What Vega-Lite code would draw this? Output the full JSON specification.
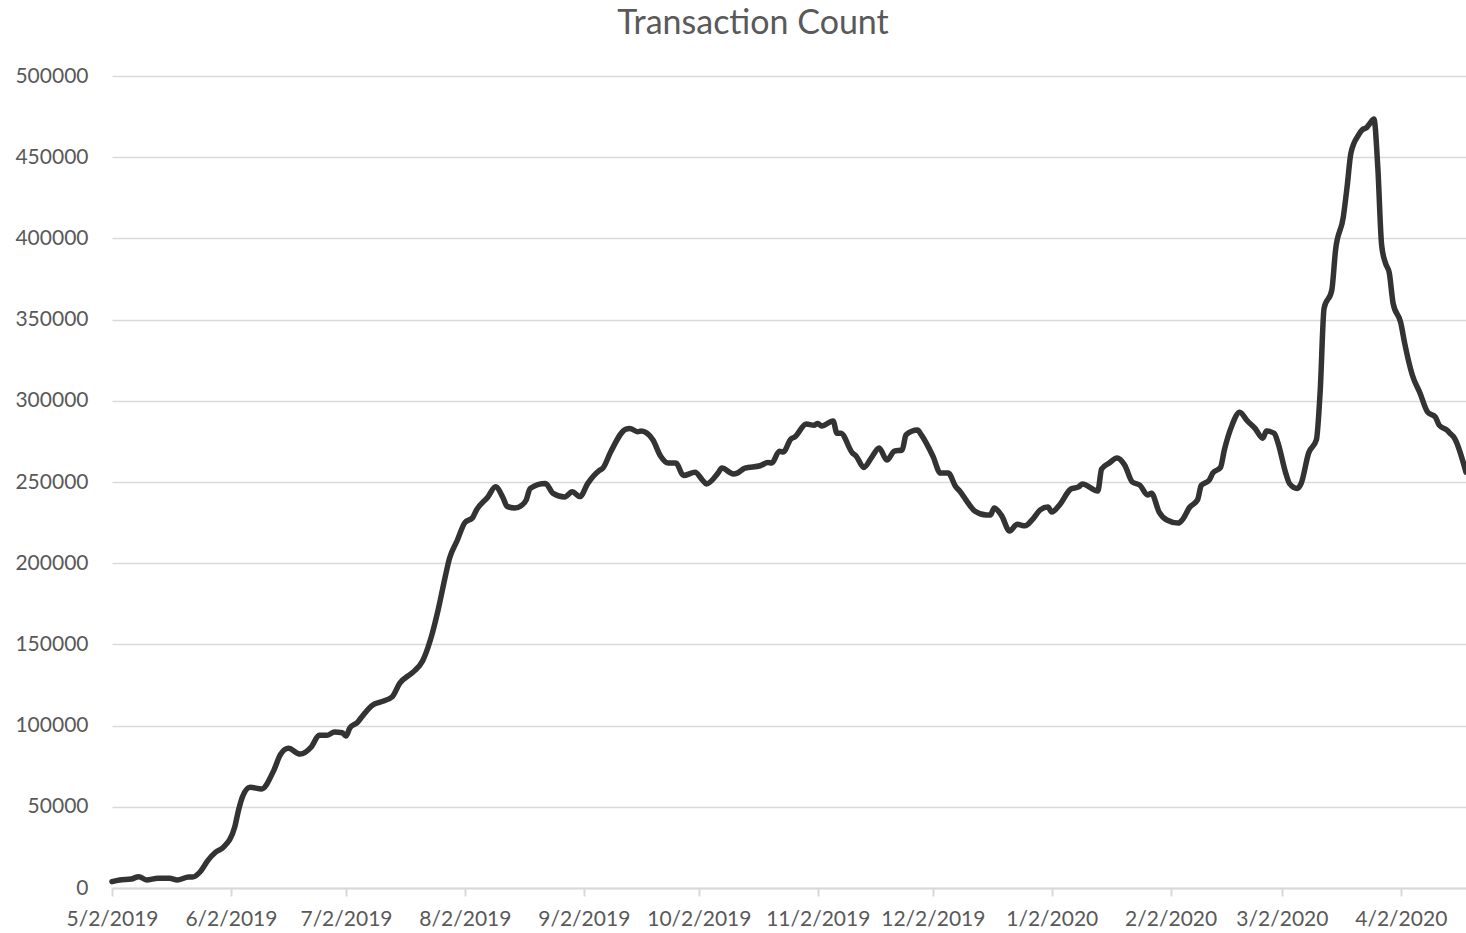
{
  "$schema": "https://vega.github.io/schema/vega-lite/v6.json",
  "autosize": {"type": "none"},
  "padding": {"left": 112, "top": 76, "right": 0, "bottom": 45},
  "width": 1354,
  "height": 812,
  "background": "white",
  "title": {
    "text": "Transaction Count",
    "font": "Lato",
    "fontSize": 34,
    "fontWeight": "normal",
    "color": "#595959",
    "anchor": "middle",
    "frame": "group",
    "dx": -36,
    "offset": 24
  },
  "config": {"view": {"stroke": null}},
  "data": {
    "values": [
      {"date": "2019-05-02", "count": 3900},
      {"date": "2019-05-04", "count": 4900},
      {"date": "2019-05-07", "count": 5500},
      {"date": "2019-05-09", "count": 7000},
      {"date": "2019-05-11", "count": 5000},
      {"date": "2019-05-14", "count": 6000},
      {"date": "2019-05-17", "count": 6000},
      {"date": "2019-05-19", "count": 5000},
      {"date": "2019-05-22", "count": 6700},
      {"date": "2019-05-23", "count": 6700},
      {"date": "2019-05-25", "count": 10000},
      {"date": "2019-05-27", "count": 17000},
      {"date": "2019-05-29", "count": 22000},
      {"date": "2019-05-31", "count": 25000},
      {"date": "2019-06-03", "count": 37600},
      {"date": "2019-06-04", "count": 48000},
      {"date": "2019-06-05", "count": 56000},
      {"date": "2019-06-07", "count": 62000},
      {"date": "2019-06-10", "count": 61000},
      {"date": "2019-06-13", "count": 71500},
      {"date": "2019-06-15", "count": 82500},
      {"date": "2019-06-17", "count": 86000},
      {"date": "2019-06-20", "count": 82500},
      {"date": "2019-06-23", "count": 87000},
      {"date": "2019-06-25", "count": 94000},
      {"date": "2019-06-27", "count": 94000},
      {"date": "2019-06-29", "count": 96000},
      {"date": "2019-07-01", "count": 95600},
      {"date": "2019-07-02", "count": 93600},
      {"date": "2019-07-03", "count": 98500},
      {"date": "2019-07-05", "count": 102000},
      {"date": "2019-07-06", "count": 105000},
      {"date": "2019-07-09", "count": 112700},
      {"date": "2019-07-11", "count": 114500},
      {"date": "2019-07-14", "count": 117600},
      {"date": "2019-07-16", "count": 126000},
      {"date": "2019-07-19", "count": 132000},
      {"date": "2019-07-20", "count": 134000},
      {"date": "2019-07-22", "count": 140000},
      {"date": "2019-07-24", "count": 152700},
      {"date": "2019-07-26", "count": 171000},
      {"date": "2019-07-28", "count": 193000},
      {"date": "2019-07-29", "count": 203000},
      {"date": "2019-07-31", "count": 214000},
      {"date": "2019-08-02", "count": 225000},
      {"date": "2019-08-04", "count": 228000},
      {"date": "2019-08-05", "count": 232700},
      {"date": "2019-08-08", "count": 240800},
      {"date": "2019-08-10", "count": 247000},
      {"date": "2019-08-12", "count": 240000},
      {"date": "2019-08-13", "count": 235000},
      {"date": "2019-08-15", "count": 234000},
      {"date": "2019-08-17", "count": 236000},
      {"date": "2019-08-18", "count": 239000},
      {"date": "2019-08-19", "count": 246000},
      {"date": "2019-08-23", "count": 249000},
      {"date": "2019-08-25", "count": 243000},
      {"date": "2019-08-28", "count": 240800},
      {"date": "2019-08-30", "count": 244000},
      {"date": "2019-09-01", "count": 241000},
      {"date": "2019-09-03", "count": 249000},
      {"date": "2019-09-06", "count": 257000},
      {"date": "2019-09-07", "count": 258600},
      {"date": "2019-09-09", "count": 268500},
      {"date": "2019-09-13", "count": 282600},
      {"date": "2019-09-14", "count": 283000},
      {"date": "2019-09-16", "count": 281000},
      {"date": "2019-09-17", "count": 281400},
      {"date": "2019-09-20", "count": 276000},
      {"date": "2019-09-22", "count": 266000},
      {"date": "2019-09-24", "count": 261700},
      {"date": "2019-09-26", "count": 261700},
      {"date": "2019-09-28", "count": 254000},
      {"date": "2019-10-01", "count": 256000},
      {"date": "2019-10-03", "count": 251000},
      {"date": "2019-10-04", "count": 248800},
      {"date": "2019-10-07", "count": 255500},
      {"date": "2019-10-08", "count": 258600},
      {"date": "2019-10-11", "count": 255000},
      {"date": "2019-10-12", "count": 255500},
      {"date": "2019-10-14", "count": 258600},
      {"date": "2019-10-18", "count": 260000},
      {"date": "2019-10-20", "count": 262000},
      {"date": "2019-10-21", "count": 261700},
      {"date": "2019-10-23", "count": 269000},
      {"date": "2019-10-24", "count": 268500},
      {"date": "2019-10-26", "count": 276500},
      {"date": "2019-10-27", "count": 277700},
      {"date": "2019-10-30", "count": 285700},
      {"date": "2019-11-01", "count": 285000},
      {"date": "2019-11-02", "count": 286000},
      {"date": "2019-11-03", "count": 284500},
      {"date": "2019-11-06", "count": 287600},
      {"date": "2019-11-07", "count": 280000},
      {"date": "2019-11-08", "count": 280000},
      {"date": "2019-11-11", "count": 268000},
      {"date": "2019-11-12", "count": 266000},
      {"date": "2019-11-14", "count": 259000},
      {"date": "2019-11-16", "count": 265000},
      {"date": "2019-11-18", "count": 271000},
      {"date": "2019-11-20", "count": 263500},
      {"date": "2019-11-22", "count": 269000},
      {"date": "2019-11-24", "count": 269700},
      {"date": "2019-11-25", "count": 279000},
      {"date": "2019-11-28", "count": 282000},
      {"date": "2019-11-29", "count": 279000},
      {"date": "2019-12-02", "count": 266000},
      {"date": "2019-12-04", "count": 255500},
      {"date": "2019-12-06", "count": 255500},
      {"date": "2019-12-08", "count": 247000},
      {"date": "2019-12-09", "count": 244500},
      {"date": "2019-12-11", "count": 237700},
      {"date": "2019-12-13", "count": 232000},
      {"date": "2019-12-16", "count": 229700},
      {"date": "2019-12-17", "count": 229700},
      {"date": "2019-12-18", "count": 234000},
      {"date": "2019-12-20", "count": 229000},
      {"date": "2019-12-22", "count": 219800},
      {"date": "2019-12-24", "count": 224000},
      {"date": "2019-12-26", "count": 223000},
      {"date": "2019-12-28", "count": 227000},
      {"date": "2019-12-30", "count": 232800},
      {"date": "2020-01-01", "count": 234600},
      {"date": "2020-01-02", "count": 231500},
      {"date": "2020-01-04", "count": 235800},
      {"date": "2020-01-07", "count": 245700},
      {"date": "2020-01-09", "count": 247000},
      {"date": "2020-01-10", "count": 248800},
      {"date": "2020-01-14", "count": 244500},
      {"date": "2020-01-15", "count": 258000},
      {"date": "2020-01-17", "count": 261700},
      {"date": "2020-01-19", "count": 264800},
      {"date": "2020-01-21", "count": 260500},
      {"date": "2020-01-23", "count": 250000},
      {"date": "2020-01-25", "count": 248000},
      {"date": "2020-01-27", "count": 242000},
      {"date": "2020-01-28", "count": 243000},
      {"date": "2020-01-30", "count": 231500},
      {"date": "2020-02-01", "count": 226600},
      {"date": "2020-02-04", "count": 224700},
      {"date": "2020-02-05", "count": 226600},
      {"date": "2020-02-07", "count": 234600},
      {"date": "2020-02-09", "count": 239000},
      {"date": "2020-02-10", "count": 248000},
      {"date": "2020-02-12", "count": 251000},
      {"date": "2020-02-13", "count": 255500},
      {"date": "2020-02-15", "count": 259000},
      {"date": "2020-02-16", "count": 269700},
      {"date": "2020-02-18", "count": 285000},
      {"date": "2020-02-20", "count": 293000},
      {"date": "2020-02-22", "count": 287600},
      {"date": "2020-02-24", "count": 283000},
      {"date": "2020-02-26", "count": 277000},
      {"date": "2020-02-27", "count": 281400},
      {"date": "2020-02-29", "count": 280000},
      {"date": "2020-03-01", "count": 274000},
      {"date": "2020-03-03", "count": 255500},
      {"date": "2020-03-04", "count": 249000},
      {"date": "2020-03-06", "count": 246000},
      {"date": "2020-03-07", "count": 249000},
      {"date": "2020-03-09", "count": 268000},
      {"date": "2020-03-11", "count": 276000},
      {"date": "2020-03-12", "count": 306600},
      {"date": "2020-03-13", "count": 357000},
      {"date": "2020-03-15", "count": 368000},
      {"date": "2020-03-16", "count": 393000},
      {"date": "2020-03-18", "count": 413000},
      {"date": "2020-03-19", "count": 431700},
      {"date": "2020-03-20", "count": 452600},
      {"date": "2020-03-22", "count": 463700},
      {"date": "2020-03-23", "count": 467000},
      {"date": "2020-03-24", "count": 468000},
      {"date": "2020-03-25", "count": 471000},
      {"date": "2020-03-26", "count": 473500},
      {"date": "2020-03-27", "count": 444000},
      {"date": "2020-03-28", "count": 396000},
      {"date": "2020-03-29", "count": 384800},
      {"date": "2020-03-30", "count": 378700},
      {"date": "2020-03-31", "count": 360000},
      {"date": "2020-04-02", "count": 348000},
      {"date": "2020-04-03", "count": 335600},
      {"date": "2020-04-05", "count": 315900},
      {"date": "2020-04-07", "count": 304800},
      {"date": "2020-04-09", "count": 293000},
      {"date": "2020-04-11", "count": 290000},
      {"date": "2020-04-12", "count": 285000},
      {"date": "2020-04-14", "count": 282000},
      {"date": "2020-04-15", "count": 279600},
      {"date": "2020-04-16", "count": 277000},
      {"date": "2020-04-19", "count": 256000}
    ]
  },
  "mark": {
    "type": "line",
    "color": "#333333",
    "strokeWidth": 5.5,
    "strokeJoin": "round",
    "strokeCap": "round",
    "interpolate": "monotone"
  },
  "encoding": {
    "x": {
      "field": "date",
      "type": "temporal",
      "title": null,
      "scale": {
        "type": "utc",
        "domain": [
          {"year": 2019, "month": 5, "date": 2, "utc": true},
          {"year": 2020, "month": 4, "date": 19, "utc": true}
        ],
        "nice": false
      },
      "axis": {
        "values": [
          {"year": 2019, "month": 5, "date": 2, "utc": true},
          {"year": 2019, "month": 6, "date": 2, "utc": true},
          {"year": 2019, "month": 7, "date": 2, "utc": true},
          {"year": 2019, "month": 8, "date": 2, "utc": true},
          {"year": 2019, "month": 9, "date": 2, "utc": true},
          {"year": 2019, "month": 10, "date": 2, "utc": true},
          {"year": 2019, "month": 11, "date": 2, "utc": true},
          {"year": 2019, "month": 12, "date": 2, "utc": true},
          {"year": 2020, "month": 1, "date": 2, "utc": true},
          {"year": 2020, "month": 2, "date": 2, "utc": true},
          {"year": 2020, "month": 3, "date": 2, "utc": true},
          {"year": 2020, "month": 4, "date": 2, "utc": true}
        ],
        "format": "%-m/%-d/%Y",
        "labelFont": "Lato",
        "labelFontSize": 21,
        "labelColor": "#595959",
        "labelOverlap": false,
        "labelFlush": false,
        "labelPadding": 12,
        "grid": false,
        "domain": true,
        "domainColor": "#D9D9D9",
        "domainWidth": 2,
        "ticks": true,
        "tickColor": "#D9D9D9",
        "tickWidth": 2,
        "tickSize": 8
      }
    },
    "y": {
      "field": "count",
      "type": "quantitative",
      "title": null,
      "scale": {"domain": [0, 500000], "nice": false, "zero": true},
      "axis": {
        "values": [0, 50000, 100000, 150000, 200000, 250000, 300000, 350000, 400000, 450000, 500000],
        "format": "d",
        "labelFont": "Lato",
        "labelFontSize": 21,
        "labelColor": "#595959",
        "labelPadding": 24,
        "domain": false,
        "ticks": false,
        "grid": true,
        "gridColor": "#D9D9D9",
        "gridWidth": 1.5
      }
    }
  }
}
